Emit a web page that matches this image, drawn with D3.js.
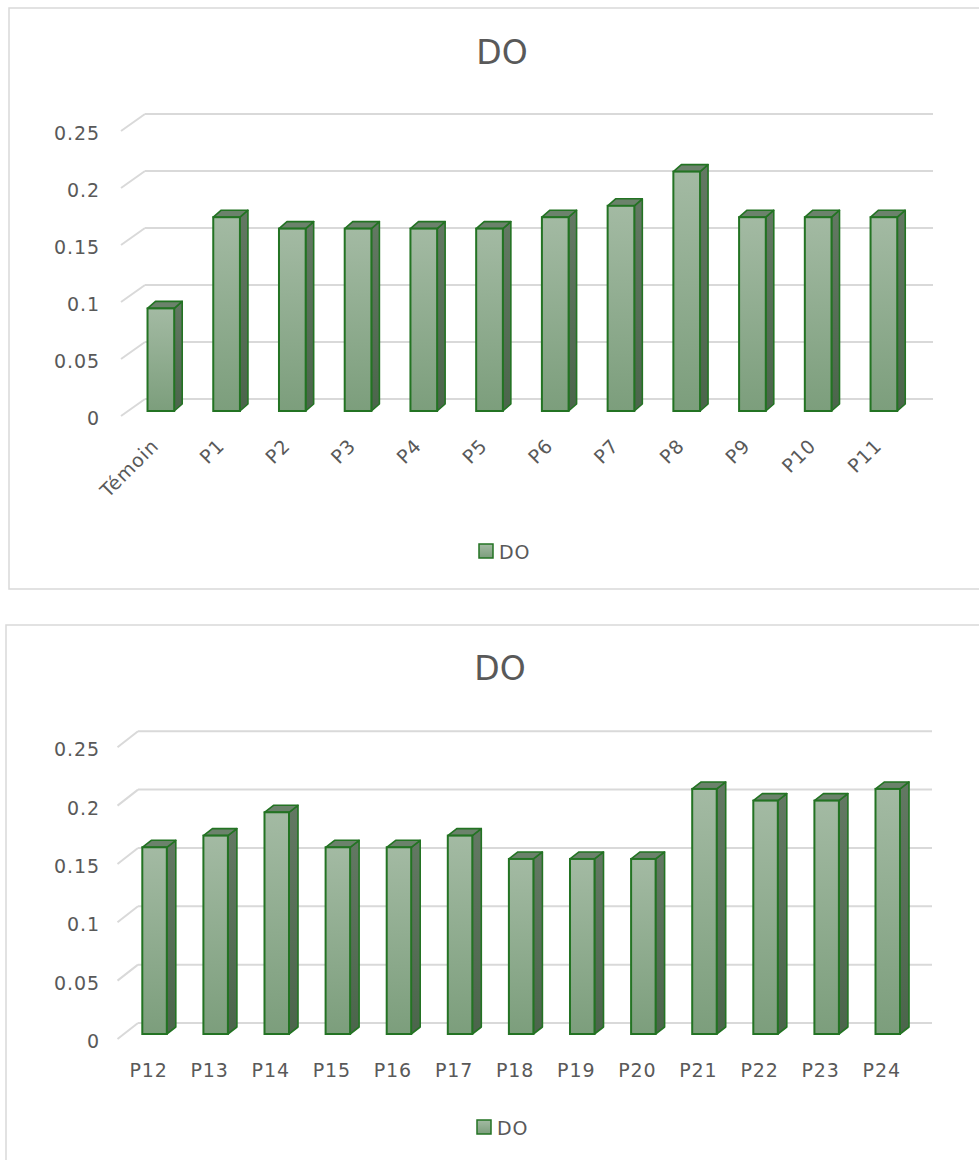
<!DOCTYPE html>
<html>
<head>
<meta charset="utf-8">
<script src="https://cdn.jsdelivr.net/npm/d3@7"></script>
<style>
  html, body { margin: 0; padding: 0; background: #fff; }
  svg { display: block; }
  text { font-family: "DejaVu Sans", "Noto Sans", sans-serif; fill: #595959; }
</style>
</head>
<body>
<svg id="chart" width="979" height="1160"></svg>
<script>
// ---- Data ----
const chartTitle = "DO";
const seriesName = "DO";
const categoriesTop = ["Témoin", "P1", "P2", "P3", "P4", "P5", "P6", "P7", "P8", "P9", "P10", "P11"];
const valuesTop = [0.09, 0.17, 0.16, 0.16, 0.16, 0.16, 0.17, 0.18, 0.21, 0.17, 0.17, 0.17];
const categoriesBottom = ["P12", "P13", "P14", "P15", "P16", "P17", "P18", "P19", "P20", "P21", "P22", "P23", "P24"];
const valuesBottom = [0.16, 0.17, 0.19, 0.16, 0.16, 0.17, 0.15, 0.15, 0.15, 0.21, 0.20, 0.20, 0.21];
const yTicks = [0, 0.05, 0.1, 0.15, 0.2, 0.25];
const yTickLabels = ["0", "0.05", "0.1", "0.15", "0.2", "0.25"];

const svg = d3.select("#chart");
const defs = svg.append("defs");
const gFront = defs.append("linearGradient").attr("id", "gFront").attr("x1", 0).attr("y1", 0).attr("x2", 0).attr("y2", 1);
gFront.append("stop").attr("offset", "0%").attr("stop-color", "#a3baa3");
gFront.append("stop").attr("offset", "100%").attr("stop-color", "#7c9e7c");
const gSide = defs.append("linearGradient").attr("id", "gSide").attr("x1", 0).attr("y1", 0).attr("x2", 0).attr("y2", 1);
gSide.append("stop").attr("offset", "0%").attr("stop-color", "#637863");
gSide.append("stop").attr("offset", "100%").attr("stop-color", "#4b654b");
const gLeg = defs.append("linearGradient").attr("id", "gLeg").attr("x1", 0).attr("y1", 0).attr("x2", 0).attr("y2", 1);
gLeg.append("stop").attr("offset", "0%").attr("stop-color", "#a3baa3");
gLeg.append("stop").attr("offset", "100%").attr("stop-color", "#7c9e7c");

const FS = "19px";
const LS = "0.9px";

function drawChart(cfg) {
  const g = svg.append("g");
  // frame
  g.append("rect").attr("x", cfg.frame[0]).attr("y", cfg.frame[1])
    .attr("width", cfg.frame[2]).attr("height", cfg.frame[3])
    .attr("fill", "#fff").attr("stroke", "#d9d9d9").attr("stroke-width", 1.5);
  // title
  g.append("text").attr("x", cfg.titleX).attr("y", cfg.titleY)
    .attr("text-anchor", "middle").attr("dominant-baseline", "central")
    .style("font-size", "33px").text(chartTitle);

  const n = cfg.categories.length;
  const x = d3.scaleBand().domain(cfg.categories)
    .range([cfg.planeX, cfg.planeX + n * cfg.step])
    .paddingInner(cfg.pad).paddingOuter(cfg.pad / 2);
  const y = d3.scaleLinear().domain([0, 0.25]).range([cfg.baseY, cfg.baseY - 0.25 * cfg.pxPerUnit]);

  // gridlines: back wall + left floor/wall diagonal
  const grid = g.append("g");
  yTicks.forEach(t => {
    const yb = y(t) + cfg.backDy, yf = y(t) + cfg.frontDy;
    grid.append("line").attr("x1", cfg.backX).attr("x2", cfg.backX2).attr("y1", yb).attr("y2", yb)
      .attr("stroke", "#d9d9d9").attr("stroke-width", 2);
    grid.append("line").attr("x1", cfg.frontX).attr("x2", cfg.backX).attr("y1", yf).attr("y2", yb)
      .attr("stroke", "#d9d9d9").attr("stroke-width", 2);
  });
  // y labels
  yTicks.forEach((t, i) => {
    g.append("text").attr("x", cfg.yLabelX).attr("y", y(t) + cfg.frontDy + 2)
      .attr("text-anchor", "end").attr("dominant-baseline", "central")
      .style("font-size", FS).style("letter-spacing", LS).text(yTickLabels[i]);
  });

  // bars
  const bw = x.bandwidth();
  const dx = cfg.depthX, dy = cfg.depthY;
  const bars = g.append("g").selectAll("g").data(cfg.values).join("g");
  bars.each(function(v, i) {
    const b = d3.select(this);
    const x0 = x(cfg.categories[i]), x1 = x0 + bw, yt = y(v), y0 = y(0);
    b.append("path").attr("d", `M${x1},${y0}L${x1 + dx},${y0 + dy}L${x1 + dx},${yt + dy}L${x1},${yt}Z`)
      .attr("fill", "url(#gSide)").attr("stroke", "#237323").attr("stroke-width", 1.6).attr("stroke-linejoin", "round");
    b.append("path").attr("d", `M${x0},${yt}L${x0 + dx},${yt + dy}L${x1 + dx},${yt + dy}L${x1},${yt}Z`)
      .attr("fill", "#6b826b").attr("stroke", "#237323").attr("stroke-width", 1.6).attr("stroke-linejoin", "round");
    b.append("rect").attr("x", x0).attr("y", yt).attr("width", bw).attr("height", y0 - yt)
      .attr("fill", "url(#gFront)").attr("stroke", "#237323").attr("stroke-width", 2);
  });

  // x labels
  cfg.categories.forEach(c => {
    const cx = x(c) + bw / 2 + cfg.labelDx;
    if (cfg.rotate) {
      g.append("text").attr("transform", `translate(${cx},${cfg.labelY}) rotate(-45)`)
        .attr("text-anchor", "end")
        .style("font-size", FS).style("letter-spacing", LS).text(c);
    } else {
      g.append("text").attr("x", cx).attr("y", cfg.labelY)
        .attr("text-anchor", "middle").attr("dominant-baseline", "central")
        .style("font-size", FS).style("letter-spacing", LS).text(c);
    }
  });

  // legend
  g.append("rect").attr("x", cfg.legX).attr("y", cfg.legY - 7).attr("width", 14).attr("height", 14)
    .attr("fill", "url(#gLeg)").attr("stroke", "#237323").attr("stroke-width", 1.5);
  g.append("text").attr("x", cfg.legX + 20).attr("y", cfg.legY + 1)
    .attr("dominant-baseline", "central")
    .style("font-size", FS).style("letter-spacing", LS).text(seriesName);
}

drawChart({
  frame: [9, 8, 990, 581],
  titleX: 502, titleY: 52,
  categories: categoriesTop, values: valuesTop,
  planeX: 128, step: 65.73, pad: 0.594,
  baseY: 411, pxPerUnit: 1140,
  backDy: -12, frontDy: 5, backX: 145, backX2: 933, frontX: 121,
  yLabelX: 100,
  depthX: 8, depthY: -7,
  rotate: true, labelDx: -1, labelY: 447,
  legX: 479, legY: 551
});

drawChart({
  frame: [6, 625, 990, 560],
  titleX: 500, titleY: 668,
  categories: categoriesBottom, values: valuesBottom,
  planeX: 124, step: 61.1, pad: 0.599,
  baseY: 1034, pxPerUnit: 1167,
  backDy: -11, frontDy: 5, backX: 138, backX2: 932, frontX: 117.5,
  yLabelX: 100,
  depthX: 9, depthY: -7,
  rotate: false, labelDx: -6, labelY: 1070,
  legX: 477, legY: 1127
});
</script>
</body>
</html>
